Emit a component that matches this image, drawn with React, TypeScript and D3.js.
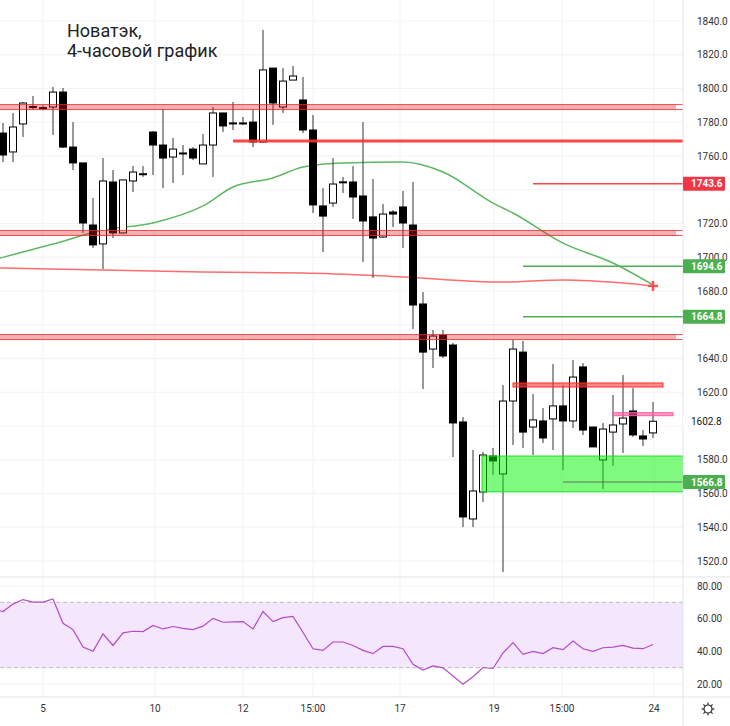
import * as d3 from "d3";

// [open, high, low, close]
const candles: [number, number, number, number][] = [
  [1773.6, 1779.6, 1756.4, 1760.6], [1762.4, 1785.5, 1756.4, 1777.2], [1779, 1792, 1771.3, 1791.4],
  [1789.3, 1795.6, 1787.3, 1789], [1788.5, 1790, 1787, 1788.7], [1789, 1800.9, 1772.4, 1797.9],
  [1797.9, 1800.3, 1764.7, 1765.3], [1765.3, 1780.1, 1751.7, 1755.9], [1755.9, 1755.9, 1714.4, 1720.3],
  [1719.1, 1735.1, 1705.5, 1707.3], [1707.9, 1758.8, 1693, 1745.2], [1744.6, 1751.7, 1711.4, 1714.4],
  [1714.4, 1746, 1714, 1745.8], [1745.2, 1754.1, 1738.7, 1750.5], [1749.3, 1754, 1747.6, 1749.5],
  [1774.2, 1774.8, 1748.7, 1766.5], [1766.5, 1787.9, 1741, 1758.8], [1759.4, 1770.7, 1744, 1764.1],
  [1761.6, 1766.5, 1748.7, 1761.8], [1764.1, 1765.3, 1757.6, 1758.8], [1755.3, 1773, 1755.3, 1766.5],
  [1766.5, 1789, 1747.6, 1785.5], [1785.5, 1785.5, 1774.2, 1777.8], [1779.6, 1792, 1775.4, 1779.4],
  [1779.4, 1783.1, 1778.4, 1779.6], [1780.1, 1787.3, 1765.3, 1768.3], [1768.3, 1834.7, 1768, 1811],
  [1812.1, 1812.1, 1778.4, 1791.4], [1789, 1812.1, 1785.5, 1804.4], [1805, 1813.3, 1805, 1807.4],
  [1793.2, 1806.8, 1773.6, 1775.4], [1775.4, 1784.3, 1726.2, 1731], [1730.4, 1741, 1703.1, 1724.4],
  [1732.1, 1758.8, 1729.8, 1743.4], [1744.5, 1747.6, 1738.1, 1744.7], [1744.6, 1754.1, 1722.7, 1735.7],
  [1736.3, 1780.1, 1697.2, 1721.5], [1723.9, 1746.4, 1687.7, 1711.4], [1712, 1731.6, 1711.4, 1725.6],
  [1726.8, 1728, 1717.9, 1725.6], [1729.8, 1739.3, 1705.5, 1720.3], [1719.1, 1744.6, 1657.5, 1671.7],
  [1672.3, 1679.4, 1621.9, 1643.8], [1645.6, 1656.9, 1634.4, 1653.3], [1653.9, 1656.9, 1640.3, 1641.5],
  [1648, 1649.2, 1581.6, 1601.8], [1602.4, 1605.3, 1540.1, 1546.1], [1544.9, 1585.8, 1540.1, 1561.5],
  [1560.9, 1584.6, 1555, 1582.8], [1582.2, 1587, 1571, 1579.3], [1571.6, 1624.3, 1513.5, 1614.8],
  [1614.8, 1651, 1588.7, 1645.6], [1643.8, 1650.4, 1587, 1596.4], [1599.4, 1619, 1582.8, 1603.6],
  [1603, 1610.7, 1589.9, 1592.9], [1604.2, 1636.7, 1585.8, 1611.9], [1611.9, 1624.3, 1573.9, 1603],
  [1603, 1639.1, 1598.8, 1629], [1635, 1637.3, 1594.7, 1597.6], [1599.4, 1599.4, 1587.6, 1587.6],
  [1579.9, 1601.8, 1562.7, 1598.2], [1596.4, 1618.4, 1576.3, 1600.6], [1601.2, 1630.2, 1584, 1604.7],
  [1608.9, 1622.5, 1593.5, 1594.7], [1594.1, 1597.6, 1588.1, 1592.3], [1595.9, 1614.2, 1592.9, 1602.8],
];

// [candle index, value]
const greenMa: [number, number][] = [
  [-0.3, 1699.5], [5, 1707.8], [10, 1716.1], [15, 1720.3], [20, 1730.4], [23, 1741.6], [27, 1747],
  [30, 1753.5], [34, 1755.9], [40, 1756.4], [44, 1750.5], [49, 1732.1], [51, 1726.2], [56, 1708.4],
  [61, 1696.6], [65, 1683.6],
];
const redMa: [number, number][] = [
  [-0.3, 1693.6], [15, 1691.8], [20, 1691.2], [30, 1690.7], [40, 1688.3], [50, 1685.3], [56, 1686.5],
  [62, 1684.7], [65, 1683],
];

// RSI from candle -1
const rsi = [
  65.9, 64.4, 68.9, 71.7, 70.1, 70.1, 72.1, 57.2, 53.3, 42.6, 40, 50.7, 43.6, 51.3, 52.3, 52.1, 55.8,
  53.7, 55.2, 54.1, 53.3, 55.4, 60.2, 57.8, 58, 58.2, 53.7, 64.4, 58.2, 60.6, 61.4, 51.5, 41.6, 40.6,
  45.7, 45.7, 43.6, 40.6, 38.6, 43, 43, 41.6, 32.1, 28.5, 31.1, 29.9, 24.9, 19.8, 24.4, 30.1, 29.5, 39,
  45.3, 38.2, 40, 38.6, 42.2, 41, 46.3, 41.6, 40, 42.2, 42.6, 43.6, 42, 41.6, 44.2,
];

const priceTicks = d3.range(1520, 1841, 20);
const rsiTicks = [20, 40, 60, 80];
const dateTicks: [number, string][] = [
  [4, "5"], [15.2, "10"], [24, "12"], [31, "15:00"], [39.7, "17"], [49.1, "19"], [55.9, "15:00"], [65.1, "24"],
];

// levels: [price, fromIndex]
const bandLevels: [number, number][] = [[1789, -1], [1714.4, -1], [1652.7, -1]];
const redLines: [number, number, number][] = [[1768.9, 23, 3], [1743.6, 53, 1.5]];
const greenLines: [number, number][] = [[1694.6, 52], [1664.8, 52]];
const boxLevels = { supTop: 1582.2, supBottom: 1561, supFrom: 47.9, res: 1624.3, resFrom: 51, resTo: 66, pink: 1607, pinkFrom: 61, pinkTo: 67 };
const greyLine: [number, number] = [1566.8, 56];

const axisLabels: [number, string, string, string][] = [
  [1743.6, "1743.6", "#f23645", "#fff"],
  [1694.6, "1694.6", "#4caf50", "#fff"],
  [1664.8, "1664.8", "#4caf50", "#fff"],
  [1602.8, "1602.8", "#fff", "#131722"],
  [1566.8, "1566.8", "#4caf50", "#fff"],
];

const W = 730, H = 726, PR = 683;
const x = d3.scaleLinear().domain([0, 65]).range([3, 653]);
const y = d3.scaleLinear().domain([1520, 1840]).range([561, 21]);
const yr = d3.scaleLinear().domain([20, 80]).range([684, 586]);

export default function App() {
  const line = d3.line<[number, number]>().x((d) => x(d[0])).y((d) => y(d[1])).curve(d3.curveMonotoneX);
  const rsiLine = d3.line<number>().x((_, i) => x(i - 1)).y((d) => yr(d));
  const font = "Roboto, 'Noto Sans', sans-serif";
  // tick labels hidden behind a price label box
  const visibleTicks = priceTicks.filter((p) => axisLabels.every(([lp]) => Math.abs(y(p) - y(lp)) > 9));
  return (
    <svg width={W} height={H} style={{ position: "absolute", left: 0, top: 0, background: "#fff" }} fontFamily={font}>
      <defs>
        <clipPath id="main"><rect x={0} y={0} width={PR} height={577} /></clipPath>
        <clipPath id="rsi"><rect x={0} y={578} width={PR} height={119} /></clipPath>
      </defs>
      {priceTicks.map((p) => (
        <line key={p} x1={0} x2={PR} y1={y(p)} y2={y(p)} stroke="#f0f3fa" />
      ))}
      {rsiTicks.map((p) => (
        <line key={p} x1={0} x2={PR} y1={yr(p)} y2={yr(p)} stroke="#f0f3fa" />
      ))}
      {dateTicks.map(([i, t]) => (
        <line key={t + i} x1={x(i)} x2={x(i)} y1={0} y2={697} stroke="#f0f3fa" />
      ))}
      <g clipPath="url(#main)">
        <path d={line(redMa) ?? ""} fill="none" stroke="#ff5252" strokeWidth={1.5} opacity={0.85} />
        <path d={line(greenMa) ?? ""} fill="none" stroke="#4caf50" strokeWidth={1.5} opacity={0.9} />
        {candles.map(([o, h, l, c], i) => {
          const up = c >= o;
          const top = y(Math.max(o, c)), bot = y(Math.min(o, c));
          return (
            <g key={i}>
              <line x1={x(i)} x2={x(i)} y1={y(h)} y2={y(l)} stroke="#333" />
              <rect x={x(i) - 3.5} y={top} width={7} height={Math.max(1, bot - top)}
                fill={up ? "#fff" : "#000"} stroke="#000" strokeWidth={1} />
            </g>
          );
        })}
        {bandLevels.map(([p, from]) => (
          <g key={p}>
            <rect x={x(from)} y={y(p) - 2.5} width={PR} height={5} fill="rgba(200,40,40,0.35)" />
            <line x1={x(from)} x2={PR} y1={y(p) - 2.5} y2={y(p) - 2.5} stroke="#ff2020" opacity={0.8} />
            <line x1={x(from)} x2={PR} y1={y(p) + 2.5} y2={y(p) + 2.5} stroke="#ff2020" opacity={0.8} />
          </g>
        ))}
        {redLines.map(([p, from, w]) => (
          <line key={p} x1={x(from)} x2={PR} y1={y(p)} y2={y(p)} stroke="#ff3030" strokeWidth={w} opacity={0.9} />
        ))}
        {greenLines.map(([p, from]) => (
          <line key={p} x1={x(from)} x2={PR} y1={y(p)} y2={y(p)} stroke="#4caf50" strokeWidth={1.5} />
        ))}
        <rect x={x(boxLevels.supFrom)} y={y(boxLevels.supTop)} width={PR - x(boxLevels.supFrom)}
          height={y(boxLevels.supBottom) - y(boxLevels.supTop)} fill="rgba(0,245,0,0.5)" stroke="#22dd22" />
        <rect x={x(boxLevels.resFrom)} y={y(boxLevels.res) - 2} width={x(boxLevels.resTo) - x(boxLevels.resFrom)}
          height={4} fill="rgba(255,60,60,0.6)" stroke="#ff2a2a" />
        <rect x={x(boxLevels.pinkFrom)} y={y(boxLevels.pink) - 1.5} width={x(boxLevels.pinkTo) - x(boxLevels.pinkFrom)}
          height={3} fill="rgba(255,90,160,0.6)" stroke="#ff5a9a" />
        <line x1={x(greyLine[1])} x2={PR} y1={y(greyLine[0])} y2={y(greyLine[0])} stroke="#555" strokeWidth={1} opacity={0.8} />
        <g stroke="#ff5252" strokeWidth={2.5}>
          <line x1={x(65) - 5} x2={x(65) + 5} y1={y(1683)} y2={y(1683)} />
          <line x1={x(65)} x2={x(65)} y1={y(1683) - 5} y2={y(1683) + 5} />
        </g>
      </g>
      <text x={67} y={37} fontSize={18} fill="#222">Новатэк,</text>
      <text x={67} y={57} fontSize={18} fill="#222">4-часовой график</text>
      {/* RSI pane */}
      <line x1={0} x2={W} y1={577} y2={577} stroke="#e0e3eb" />
      <g clipPath="url(#rsi)">
        <rect x={0} y={yr(70)} width={PR} height={yr(30) - yr(70)} fill="#f3e6fd" />
        <line x1={0} x2={PR} y1={yr(70)} y2={yr(70)} stroke="#bbb" strokeDasharray="4,3" />
        <line x1={0} x2={PR} y1={yr(30)} y2={yr(30)} stroke="#bbb" strokeDasharray="4,3" />
        <path d={rsiLine(rsi) ?? ""} fill="none" stroke="#b44ac8" strokeWidth={1.2} />
      </g>
      {/* axes */}
      <line x1={PR} x2={PR} y1={0} y2={H} stroke="#e0e3eb" />
      <line x1={0} x2={W} y1={697} y2={697} stroke="#e0e3eb" />
      {visibleTicks.map((p) => (
        <text key={p} x={697} y={y(p) + 3.5} fontSize={10} fill="#333">{p.toFixed(1)}</text>
      ))}
      {rsiTicks.map((p) => (
        <text key={p} x={697} y={yr(p) + 3.5} fontSize={10} fill="#333">{p.toFixed(2)}</text>
      ))}
      {axisLabels.map(([p, t, bg, fg]) => (
        <g key={t}>
          <rect x={PR} y={y(p) - 7} width={42} height={14} fill={bg} rx={1} />
          <text x={691} y={y(p) + 3.5} fontSize={10} fill={fg} fontWeight={bg === "#fff" ? 400 : 700}>{t}</text>
        </g>
      ))}
      {dateTicks.map(([i, t]) => (
        <text key={t + i} x={x(i)} y={712} fontSize={10} fill="#333" textAnchor="middle">{t}</text>
      ))}
      <g transform="translate(708,709)" stroke="#333" fill="none" strokeWidth={1.2}>
        <circle r={4} />
        {d3.range(8).map((k) => (
          <line key={k} x1={0} y1={4} x2={0} y2={6.5} transform={`rotate(${k * 45})`} />
        ))}
      </g>
    </svg>
  );
}
